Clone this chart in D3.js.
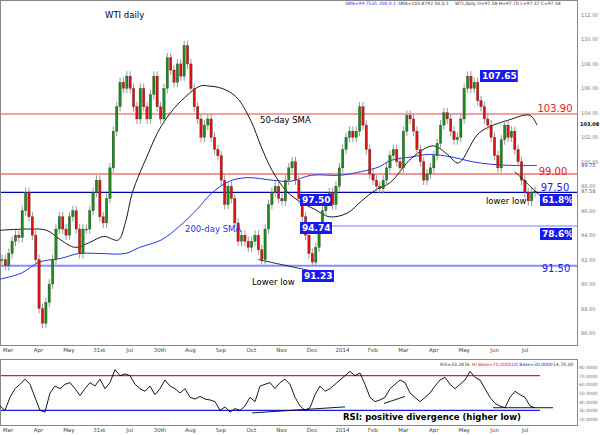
<!DOCTYPE html>
<html><head><meta charset="utf-8">
<script src="https://cdn.jsdelivr.net/npm/d3@7"></script>
<style>body{margin:0;background:#fff}text{font-family:"DejaVu Sans",sans-serif}</style>
</head><body><svg id="c" width="600" height="435"></svg>
<script>
const closes=[92.0,91.5,92.5,93.5,94.0,93.8,96.0,97.5,95.5,94.0,92.0,88.0,86.8,88.5,90.0,92.0,94.5,95.5,94.5,94.0,95.5,96.0,94.5,92.5,94.5,94.5,96.0,97.5,98.5,95.5,95.0,97.0,99.5,102.5,104.5,106.5,106.0,107.0,106.0,104.5,103.5,106.0,104.5,103.5,105.5,107.0,104.5,103.5,106.0,108.5,107.5,106.5,108.0,107.0,109.5,108.0,106.0,104.5,103.5,102.0,103.0,103.5,102.0,101.0,100.5,98.5,96.5,98.0,97.0,95.0,93.5,94.0,93.5,93.0,93.5,94.0,92.8,92.0,94.5,96.5,97.5,98.0,97.0,96.8,98.5,99.5,100.0,98.5,97.0,95.5,94.0,92.5,91.8,93.0,94.5,96.0,97.0,97.5,96.5,98.0,99.5,101.0,102.0,102.5,102.0,102.5,104.5,103.0,101.0,99.0,98.5,98.0,97.8,98.5,99.5,100.5,101.0,100.0,99.5,102.5,103.8,103.5,102.5,101.0,100.0,98.5,99.0,99.5,100.5,101.5,103.0,104.0,103.5,102.5,101.8,102.0,103.5,106.0,107.0,106.0,106.5,105.0,104.5,103.5,103.0,102.0,100.5,99.5,101.8,103.0,102.0,102.5,101.0,100.0,98.5,97.5,96.8,97.5,97.58];
const sma200=[[0,90.4],[6,90.9],[11,91.8],[17,92.1],[22,92.5],[28,92.5],[35,92.5],[39,93.0],[45,93.6],[50,94.7],[55,96.1],[59,97.4],[64,98.4],[69,98.7],[76,98.5],[81,98.4],[87,98.9],[95,98.9],[101,99.2],[106,99.6],[109,100.1],[115,100.4],[120,100.6],[126,100.4],[132,100.0],[137,99.8],[143,99.7],[150,99.7]];
const sma50=[[0,94.4],[8,94.5],[13,94.4],[17,93.6],[21,93.0],[25,93.4],[29,93.9],[33,93.6],[35,95.0],[37,97.5],[41,100.4],[45,102.9],[50,104.8],[56,106.2],[58,106.2],[62,106.0],[66,105.3],[70,103.4],[73,101.2],[76,99.3],[80,97.6],[84,96.7],[88,96.1],[92,95.5],[97,95.8],[101,96.8],[105,97.7],[109,98.3],[115,100.3],[121,101.3],[125,100.6],[128,99.9],[134,102.4],[142,103.4],[148,103.8],[150,103.0]];
const rsi=[35,30,45,55,60,66,60,45,30,28,50,58,55,60,62,55,47,55,62,58,66,55,62,77,70,72,70,60,55,52,58,48,55,65,58,55,50,55,45,43,46,43,42,40,30,34,28,32,30,35,45,40,58,60,62,55,62,66,60,45,35,30,33,48,58,52,55,60,65,70,75,70,73,60,45,40,42,45,55,60,65,62,50,45,40,45,50,58,65,68,60,55,60,65,75,68,65,55,45,38,35,33,45,52,48,45,35,33];
const monthLabels=["Mar","Apr","May","31st","Jul","30th","Aug","Sep","Oct","Nov","Dec","2014","Feb","Mar","Apr","May","Jun","Jul"];
const priceTicks=d3.range(86,113,2);
const rsiTicks=[80,70,60,50,40,30,20];

const svg=d3.select("#c");
const x=d3.scaleLinear().domain([0,closes.length-1]).range([2,535]);
const xs=d3.scaleLinear().domain([0,150]).range([0,537]);
const y=d3.scaleLinear().domain([112,86]).range([15,333]);
const xr=d3.scaleLinear().domain([0,rsi.length-1]).range([0,535]);
const yr=d3.scaleLinear().domain([80,20]).range([367,419]);
const xm=d3.scalePoint().domain(monthLabels.map((d,i)=>i)).range([8,525]);

svg.append("rect").attr("x",0.5).attr("y",0.5).attr("width",577).attr("height",345).attr("fill","none").attr("stroke","#888");
svg.append("rect").attr("x",0.5).attr("y",359.5).attr("width",577).attr("height",66).attr("fill","none").attr("stroke","#888");

const hl=(v,c,w,x0)=>svg.append("line").attr("x1",x0||1).attr("x2",577).attr("y1",y(v)).attr("y2",y(v)).attr("stroke",c).attr("stroke-width",w);
hl(103.9,"#f08080",1.5);hl(99.0,"#e03030",1);hl(97.5,"#0000aa",1.2);hl(94.74,"#a0a8ff",1.5,330);hl(91.5,"#8090ff",2);

const ln=d3.line().x(d=>xs(d[0])).y(d=>y(d[1])).curve(d3.curveCatmullRom);
svg.append("path").attr("d",ln(sma200)).attr("fill","none").attr("stroke","#2233ee").attr("stroke-width",1);
svg.append("path").attr("d",ln(sma50)).attr("fill","none").attr("stroke","#000").attr("stroke-width",0.9);

const g=svg.append("g");
closes.forEach((c,i)=>{
  const o=i?closes[i-1]:c;
  const hi=Math.max(o,c)+0.4, lo=Math.min(o,c)-0.4;
  g.append("line").attr("x1",x(i)).attr("x2",x(i)).attr("y1",y(hi)).attr("y2",y(lo)).attr("stroke","#999");
  g.append("rect").attr("x",x(i)-1.2).attr("width",2.4).attr("y",y(Math.max(o,c))).attr("height",Math.max(1,Math.abs(y(o)-y(c))))
   .attr("fill",c>=o?"#1a8a1a":"#e01010").attr("stroke","#333").attr("stroke-width",0.3);
});

const tl=(a,b)=>svg.append("line").attr("x1",x(a[0])).attr("y1",y(a[1])).attr("x2",x(b[0])).attr("y2",y(b[1])).attr("stroke","#000").attr("stroke-width",0.8);
tl([76,92.0],[93,91.0]);tl([152,99.2],[160,97.1]);

priceTicks.forEach(v=>svg.append("text").attr("x",581).attr("y",y(v)+2).attr("font-size",5).attr("fill","#777").text(v.toFixed(2)));
svg.append("text").attr("x",580).attr("y",y(103.08)+2).attr("font-size",5).attr("font-weight","bold").attr("fill","#000").text("103.08");
svg.append("text").attr("x",581).attr("y",y(99.75)+2).attr("font-size",5).attr("fill","#2233ee").text("99.75");
svg.append("text").attr("x",581).attr("y",y(97.58)+2).attr("font-size",5).attr("fill","#555").text("97.58");

const tx=(t,xx,yy,o)=>{const e=svg.append("text").attr("x",xx).attr("y",yy).attr("font-size",o.s||9).attr("fill",o.c||"#000").attr("text-anchor",o.a||"start").text(t);if(o.b)e.attr("font-weight","bold");return e;};
const box=(t,xx,yy)=>{svg.append("rect").attr("x",xx).attr("y",yy-9).attr("width",t.length*5.8+3).attr("height",12).attr("fill","#1a1aee");tx(t,xx+2,yy,{c:"#fff",s:9,b:1});};
tx("WTI daily",105,18,{s:8.5});
tx("50-day SMA",260,123,{s:8.5});
tx("200-day SMA",185,232,{s:8.5,c:"#2233ee"});
tx("Lower low",252,285,{s:8.5});
tx("lower low",486,204,{s:8.5});
tx("103.90",555,112,{s:10,c:"#e02020",a:"middle"});
tx("99.00",553,175,{s:10,c:"#e02020",a:"middle"});
tx("97.50",555,191,{s:10,c:"#1a1aee",a:"middle"});
tx("91.50",556,272,{s:10,c:"#1a1aee",a:"middle"});
box("61.8%",540,203);box("78.6%",540,237);
box("97.50",300,203);box("94.74",300,231);box("91.23",302,279);box("107.65",480,79);
tx("SMA=99.7535  200,0,1",345,5,{s:4.5,c:"#2233ee"});
tx("SMA=103.8792  50,0,1",398,5,{s:4.5,c:"#333"});
tx("WTI,daily O=97.58 H=97.70 L=97.37 C=97.58",455,5,{s:4.5,c:"#333"});

[352,432].forEach(yy=>monthLabels.forEach((m,i)=>tx(m,xm(i),yy,{s:5.5,c:"#444",a:"middle"})));

svg.append("line").attr("x1",1).attr("x2",540).attr("y1",yr(70)).attr("y2",yr(70)).attr("stroke","#e02020").attr("stroke-width",1.2);
svg.append("line").attr("x1",1).attr("x2",540).attr("y1",yr(30)).attr("y2",yr(30)).attr("stroke","#1a1aee").attr("stroke-width",1.2);
svg.append("path").attr("d",d3.line().x((d,i)=>xr(i)).y(d=>yr(d))(rsi)).attr("fill","none").attr("stroke","#000").attr("stroke-width",0.9);
const rl=(a,b)=>svg.append("line").attr("x1",a[0]).attr("y1",yr(a[1])).attr("x2",b[0]).attr("y2",yr(b[1])).attr("stroke","#000").attr("stroke-width",0.9);
rl([252,27],[345,34]);rl([384,38],[405,46]);rl([493,33],[553,33]);
rsiTicks.forEach(v=>tx(v.toFixed(4),579,yr(v)+2,{s:4.5,c:"#777"}));
tx("RSI: positive divergence (higher low)",343,420,{s:8.5,b:1});
tx("RSI=33.2876",440,366,{s:4.5,c:"#333"});tx("HI Base=70.0000",472,366,{s:4.5,c:"#e02020"});tx("LO Base=30.0000",512,366,{s:4.5,c:"#1a1aee"});tx("14,70,30",553,366,{s:4.5,c:"#333"});
</script></body></html>
